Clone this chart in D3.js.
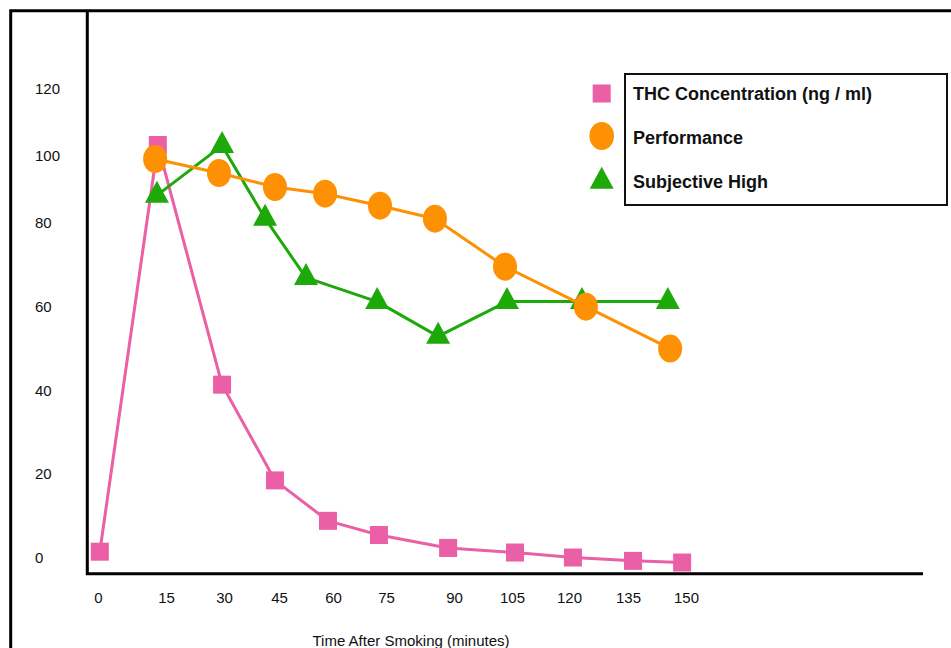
<!DOCTYPE html>
<html><head><meta charset="utf-8">
<script src="https://cdn.jsdelivr.net/npm/d3@7"></script>
<style>html,body{margin:0;padding:0;background:#fff;} svg{display:block;}</style>
</head><body>
<svg id="chart" width="951" height="648"></svg>
<script>
// ---- data ----
const xTickValues = [0, 15, 30, 45, 60, 75, 90, 105, 120, 135, 150];
const yTickValues = [0, 20, 40, 60, 80, 100, 120];
const thcTime  = [0.4, 13.2, 29.5, 43.9, 58.6, 73.0, 88.7, 105.8, 121.0, 136.3, 149.0];
const thcValue = [1.2, 103.0, 41.2, 18.3, 8.6, 5.2, 2.1, 1.0, -0.2, -1.0, -1.4];
const perfTime  = [12.6, 28.7, 43.9, 57.8, 73.3, 85.8, 103.2, 124.3, 145.9];
const perfValue = [98.8, 94.6, 90.4, 88.4, 84.8, 80.9, 69.3, 59.8, 49.8];
const highTime  = [13.0, 29.5, 41.2, 52.5, 72.5, 86.5, 103.7, 123.3, 145.3];
const highValue = [87.9, 102.8, 81.0, 66.7, 61.0, 52.7, 61.0, 61.0, 61.0];
const seriesNames = ["THC Concentration (ng / ml)", "Performance", "Subjective High"];
const xTitle = "Time After Smoking (minutes)";

// ---- layout ----
const svg = d3.select("#chart");
const FONT = "'Liberation Sans', Arial, Helvetica, sans-serif";
const colors = {thc: "#EA5FA6", perf: "#FD9103", high: "#1EA90B"};

// the hand-drawn axes have uneven label spacing: calibrate both scales piecewise on their labels
const x = d3.scaleLinear().domain(xTickValues).range([98, 166, 224, 279, 333, 386, 454, 512, 569, 628, 686]);
const y = d3.scaleLinear().domain(yTickValues).range([556.7, 473.3, 389.7, 305.8, 221.7, 155, 88.3]);

// outer frame (left + top) and inner axes
svg.append("path").attr("d", "M10.7,648V10.7H951")
  .attr("fill", "none").attr("stroke", "#000").attr("stroke-width", 3);
svg.append("path").attr("d", "M87.3,10.7V573.7H923")
  .attr("fill", "none").attr("stroke", "#000").attr("stroke-width", 3);

// y axis labels (left aligned)
const gy = svg.append("g").attr("transform", "translate(35,0)")
  .call(d3.axisLeft(y).tickValues(yTickValues).tickSize(0).tickFormat(d3.format("d")));
gy.select(".domain").remove();
gy.selectAll("text").attr("x", 0).attr("text-anchor", "start")
  .attr("dy", "0.36em").attr("fill", "#111")
  .style("font-family", FONT).style("font-size", "15px");

// x axis labels
const gx = svg.append("g").attr("transform", "translate(0,573.7)")
  .call(d3.axisBottom(x).tickValues(xTickValues).tickSize(0).tickPadding(19).tickFormat(d3.format("d")));
gx.select(".domain").remove();
gx.selectAll("text").attr("fill", "#111")
  .style("font-family", FONT).style("font-size", "15px");

// x title
svg.append("text").attr("x", 411).attr("y", 646).attr("text-anchor", "middle")
  .attr("fill", "#111").style("font-family", FONT).style("font-size", "15px").text(xTitle);

// ---- series ----
const line = d3.line().x(d => x(d.t)).y(d => y(d.v));
const zip = (ts, vs) => ts.map((t, i) => ({t, v: vs[i]}));
const thc = zip(thcTime, thcValue), perf = zip(perfTime, perfValue), high = zip(highTime, highValue);
const triPath = "M0,-14.7L12,7.3L-12,7.3Z";

// THC
svg.append("path").datum(thc).attr("d", line).attr("fill", "none")
  .attr("stroke", colors.thc).attr("stroke-width", 3).attr("stroke-linejoin", "round");
svg.append("g").selectAll("rect").data(thc).join("rect")
  .attr("x", d => x(d.t) - 9).attr("y", d => y(d.v) - 9)
  .attr("width", 18).attr("height", 18).attr("fill", colors.thc);

// Subjective high
svg.append("path").datum(high).attr("d", line).attr("fill", "none")
  .attr("stroke", colors.high).attr("stroke-width", 3).attr("stroke-linejoin", "round");
svg.append("g").selectAll("path").data(high).join("path")
  .attr("d", triPath).attr("transform", d => `translate(${x(d.t)},${y(d.v)})`)
  .attr("fill", colors.high);

// Performance
svg.append("path").datum(perf).attr("d", line).attr("fill", "none")
  .attr("stroke", colors.perf).attr("stroke-width", 3).attr("stroke-linejoin", "round");
svg.append("g").selectAll("ellipse").data(perf).join("ellipse")
  .attr("cx", d => x(d.t)).attr("cy", d => y(d.v))
  .attr("rx", 12).attr("ry", 14).attr("fill", colors.perf);

// ---- legend ----
const lg = svg.append("g");
lg.append("rect").attr("x", 625).attr("y", 74).attr("width", 322).attr("height", 131)
  .attr("fill", "none").attr("stroke", "#111").attr("stroke-width", 2);
const rows = [93.5, 137.5, 181.5];
const mx = 601.7;
lg.append("rect").attr("x", mx - 9).attr("y", rows[0] - 9).attr("width", 18).attr("height", 18).attr("fill", colors.thc);
lg.append("ellipse").attr("cx", mx).attr("cy", rows[1] - 1.5).attr("rx", 12.3).attr("ry", 14).attr("fill", colors.perf);
lg.append("path").attr("d", triPath).attr("transform", `translate(${mx},${rows[2]})`).attr("fill", colors.high);
lg.selectAll("text.leg").data(seriesNames).join("text").attr("class", "leg")
  .attr("x", 633).attr("y", (d, i) => rows[i] + 6.2)
  .attr("fill", "#111").style("font-family", FONT).style("font-size", "18px").style("font-weight", "bold")
  .text(d => d);
</script>
</body></html>
